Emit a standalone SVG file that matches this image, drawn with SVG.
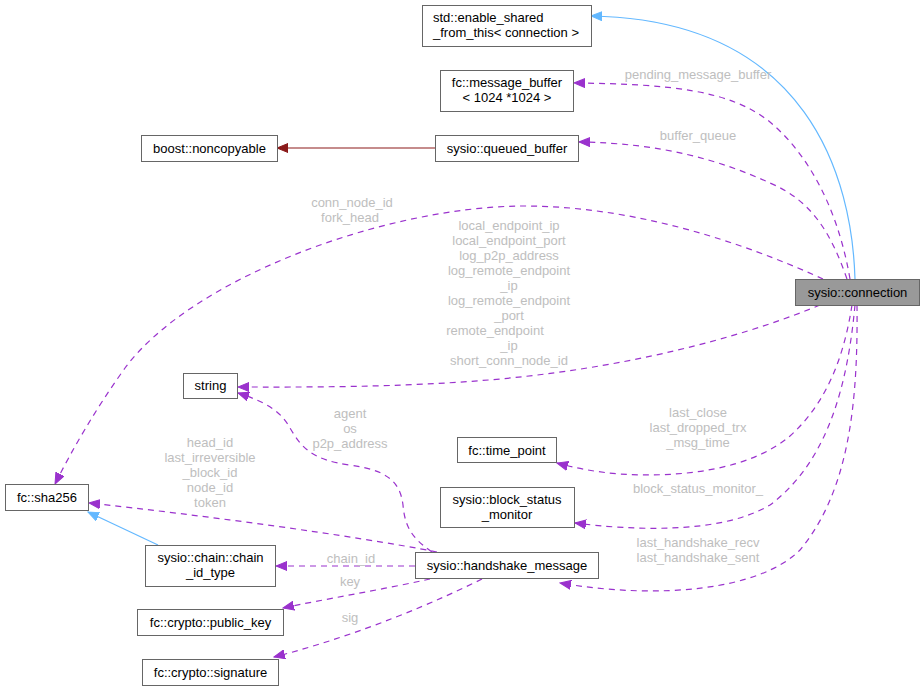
<svg xmlns="http://www.w3.org/2000/svg" width="924" height="691" viewBox="0 0 924 691">
<style>
text{font-family:"Liberation Sans",Arial,Helvetica,sans-serif;font-size:13px}
.n rect{fill:#ffffff;stroke:#666666;stroke-width:1}
.n text{fill:#000000;text-anchor:middle}
.hl rect{fill:#999999}
.lbl{fill:#bebebe;text-anchor:middle}
.e{fill:none;stroke-width:1.2}
.d{stroke:#9a32cd;stroke-dasharray:6,5}
.b{stroke:#63b8ff}
.r{stroke:#8b1a1a}
</style>
<defs>
<marker id="ad" viewBox="0 0 12 10" refX="11" refY="5" markerWidth="12" markerHeight="10" markerUnits="userSpaceOnUse" orient="auto"><path d="M0,0.5L11,5L0,9.5z" fill="#9a32cd" stroke="#9a32cd"/></marker>
<marker id="ab" viewBox="0 0 12 10" refX="11" refY="5" markerWidth="12" markerHeight="10" markerUnits="userSpaceOnUse" orient="auto"><path d="M0,0.5L11,5L0,9.5z" fill="#63b8ff" stroke="#63b8ff"/></marker>
<marker id="ar" viewBox="0 0 12 10" refX="11" refY="5" markerWidth="12" markerHeight="10" markerUnits="userSpaceOnUse" orient="auto"><path d="M0,0.5L11,5L0,9.5z" fill="#8b1a1a" stroke="#8b1a1a"/></marker>
</defs>
<g id="connectors">
<path class="e b" marker-end="url(#ab)" d="M855,279 C852,180 810,20 591,16"/>
<path class="e d" marker-end="url(#ad)" d="M850,279 C840,220 815,160 770,122 C730,90 670,84 574,83"/>
<path class="e d" marker-end="url(#ad)" d="M847,279 C830,230 810,200 770,183 C720,160 660,143 579,142"/>
<path class="e r" marker-end="url(#ar)" d="M435,148 L277,148"/>
<path class="e d" marker-end="url(#ad)" d="M823,279 C770,255 650,205 520,206 C380,208 190,280 125,368 C95,410 72,450 55,484"/>
<path class="e d" marker-end="url(#ad)" d="M820,305 C760,330 650,365 500,379 C400,388 300,387 238,387"/>
<path class="e d" marker-end="url(#ad)" d="M852,305 C845,350 830,400 790,436 C750,470 680,478 620,474 C595,472 575,468 557,463"/>
<path class="e d" marker-end="url(#ad)" d="M855,305 C848,380 830,460 770,505 C720,535 630,530 575,523"/>
<path class="e d" marker-end="url(#ad)" d="M857,305 C858,400 850,490 800,550 C760,590 660,600 560,583"/>
<path class="e d" marker-end="url(#ad)" d="M432,552 C415,540 405,530 403,505 C400,480 385,470 350,465 C310,460 300,445 290,428 C280,410 265,402 238,393"/>
<path class="e d" marker-end="url(#ad)" d="M437,552 C350,535 200,515 89,503"/>
<path class="e d" marker-end="url(#ad)" d="M415,566 L276,566"/>
<path class="e d" marker-end="url(#ad)" d="M430,579 C380,590 320,600 283,608"/>
<path class="e d" marker-end="url(#ad)" d="M482,579 C440,600 360,635 274,657"/>
<path class="e b" marker-end="url(#ab)" d="M158,545 L88,512"/>
<text class="lbl" x="698" y="79">pending_message_buffer</text>
<text class="lbl" x="698" y="140">buffer_queue</text>
<text class="lbl" x="352" y="207">conn_node_id</text>
<text class="lbl" x="350" y="222">fork_head</text>
<text class="lbl" x="509" y="230">local_endpoint_ip</text>
<text class="lbl" x="509" y="245">local_endpoint_port</text>
<text class="lbl" x="509" y="260">log_p2p_address</text>
<text class="lbl" x="509" y="275">log_remote_endpoint</text>
<text class="lbl" x="509" y="290">_ip</text>
<text class="lbl" x="509" y="305">log_remote_endpoint</text>
<text class="lbl" x="509" y="320">_port</text>
<text class="lbl" x="495" y="335">remote_endpoint</text>
<text class="lbl" x="509" y="350">_ip</text>
<text class="lbl" x="509" y="365">short_conn_node_id</text>
<text class="lbl" x="350" y="418">agent</text>
<text class="lbl" x="350" y="433">os</text>
<text class="lbl" x="350" y="448">p2p_address</text>
<text class="lbl" x="210" y="447">head_id</text>
<text class="lbl" x="210" y="462">last_irreversible</text>
<text class="lbl" x="210" y="477">_block_id</text>
<text class="lbl" x="210" y="492">node_id</text>
<text class="lbl" x="210" y="507">token</text>
<text class="lbl" x="351" y="563">chain_id</text>
<text class="lbl" x="350" y="586">key</text>
<text class="lbl" x="350" y="622">sig</text>
<text class="lbl" x="698" y="417">last_close</text>
<text class="lbl" x="698" y="432">last_dropped_trx</text>
<text class="lbl" x="698" y="447">_msg_time</text>
<text class="lbl" x="698" y="493">block_status_monitor_</text>
<text class="lbl" x="698" y="547">last_handshake_recv</text>
<text class="lbl" x="698" y="562">last_handshake_sent</text>
</g>
<g id="node_connection" class="n hl"><rect x="795.5" y="279.5" width="124" height="26"/><text x="857.5" y="297">sysio::connection</text></g>
<g id="node_enable_shared" class="n"><rect x="422.5" y="5.5" width="169" height="41"/><text x="433" y="22" style="text-anchor:start">std::enable_shared</text><text x="433" y="37" style="text-anchor:start">_from_this&lt; connection &gt;</text></g>
<g id="node_message_buffer" class="n"><rect x="440.5" y="70.5" width="133" height="41"/><text x="507" y="87">fc::message_buffer</text><text x="507" y="102">&lt; 1024 *1024 &gt;</text></g>
<g id="node_queued_buffer" class="n"><rect x="435.5" y="135.5" width="143" height="26"/><text x="507" y="153">sysio::queued_buffer</text></g>
<g id="node_noncopyable" class="n"><rect x="141.5" y="135.5" width="136" height="26"/><text x="209.5" y="153">boost::noncopyable</text></g>
<g id="node_string" class="n"><rect x="183.5" y="373.5" width="54" height="25"/><text x="210.5" y="390">string</text></g>
<g id="node_sha256" class="n"><rect x="5.5" y="484.5" width="83" height="26"/><text x="47" y="502">fc::sha256</text></g>
<g id="node_chain_id_type" class="n"><rect x="145.5" y="545.5" width="130" height="41"/><text x="210.5" y="562">sysio::chain::chain</text><text x="210.5" y="577">_id_type</text></g>
<g id="node_public_key" class="n"><rect x="137.5" y="609.5" width="146" height="26"/><text x="210.5" y="627">fc::crypto::public_key</text></g>
<g id="node_signature" class="n"><rect x="142.5" y="659.5" width="136" height="26"/><text x="210.5" y="677">fc::crypto::signature</text></g>
<g id="node_handshake_message" class="n"><rect x="415.5" y="552.5" width="183" height="26"/><text x="507" y="570">sysio::handshake_message</text></g>
<g id="node_time_point" class="n"><rect x="457.5" y="437.5" width="99" height="25"/><text x="507" y="455">fc::time_point</text></g>
<g id="node_block_status_monitor" class="n"><rect x="440.5" y="487.5" width="134" height="40"/><text x="507" y="504">sysio::block_status</text><text x="507" y="519">_monitor</text></g>
</svg>
